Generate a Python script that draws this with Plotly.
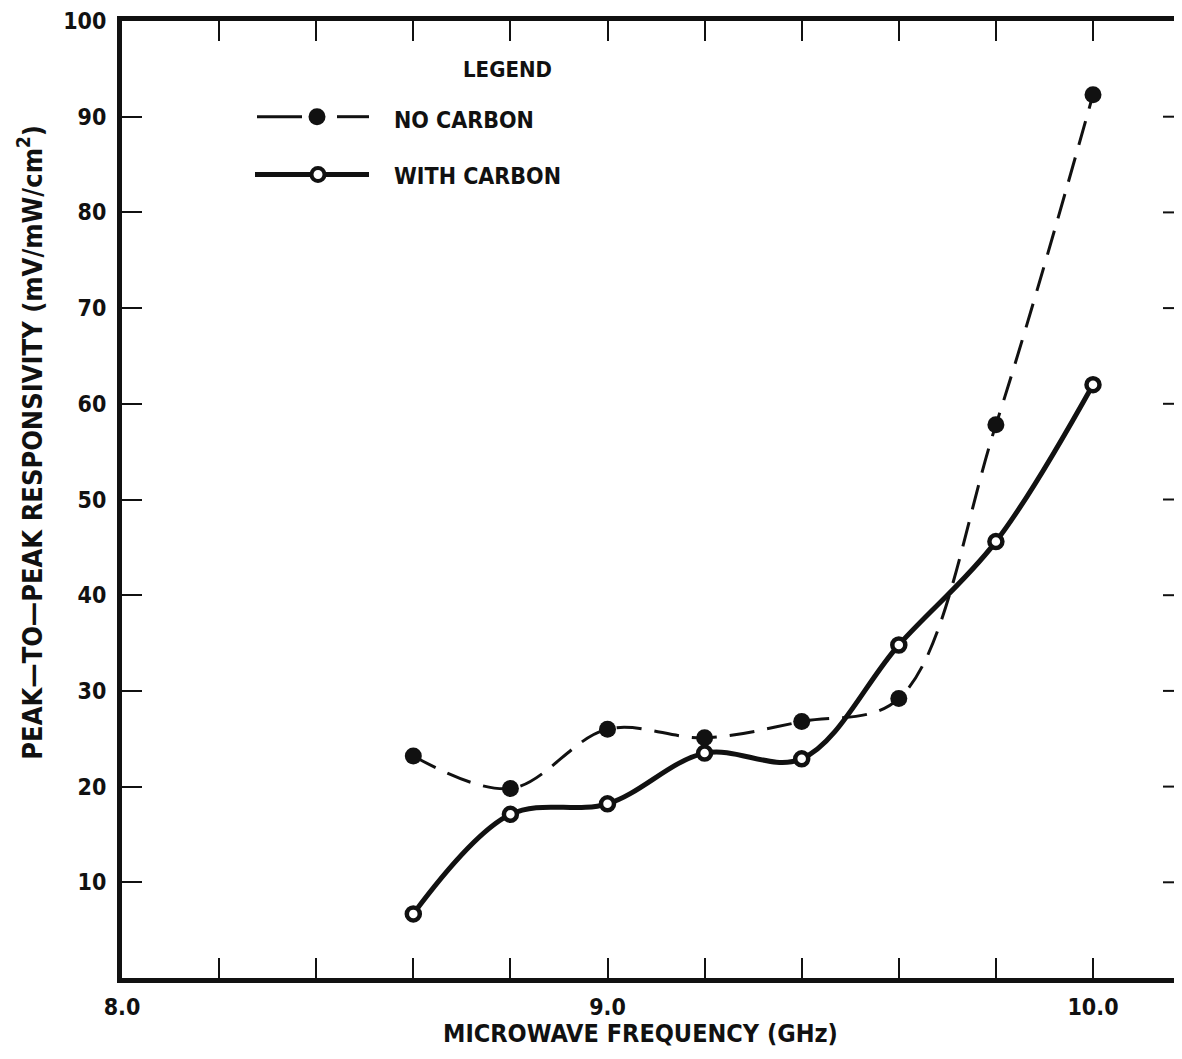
import plotly.graph_objects as go

# ---- data ----
freq_ghz = [8.6, 8.8, 9.0, 9.2, 9.4, 9.6, 9.8, 10.0]
no_carbon = [23.2, 19.8, 26.0, 25.1, 26.8, 29.2, 57.8, 92.3]
with_carbon = [6.7, 17.1, 18.2, 23.5, 22.9, 34.8, 45.6, 62.0]

x_tickvals = [8.0, 8.2, 8.4, 8.6, 8.8, 9.0, 9.2, 9.4, 9.6, 9.8, 10.0]
x_ticktext = ["8.0", "", "", "", "", "9.0", "", "", "", "", "10.0"]
y_tickvals = [10, 20, 30, 40, 50, 60, 70, 80, 90, 100]
y_ticktext = ["10", "20", "30", "40", "50", "60", "70", "80", "90", "100"]

FONT = "DejaVu Sans Condensed, Liberation Sans Narrow, Arial Narrow, sans-serif"
INK = "#111111"

# figure sized to fit the 1182x1059 window together with the 8px body margin
W, H = 1166, 1043
ML, MR, MT, MB = 114, 0, 10, 73
PW, PH = W - ML - MR, H - MT - MB
OFF = 8  # body margin of the html page
PX_PER_GHZ = 485.5
X_MAX = 8.0 + PW / PX_PER_GHZ


def px_x(p):  # page pixel -> paper x
    return (p - OFF - ML) / PW


def px_y(p):  # page pixel -> paper y
    return (H - MB + OFF - p) / PH


fig = go.Figure()

fig.add_trace(go.Scatter(
    x=freq_ghz, y=no_carbon, mode="lines+markers", name="NO CARBON",
    line=dict(color=INK, width=3, dash="25px,13px", shape="spline", smoothing=1.0),
    marker=dict(symbol="circle", size=17, color=INK, line=dict(width=0)),
    showlegend=False,
))
fig.add_trace(go.Scatter(
    x=freq_ghz, y=with_carbon, mode="lines+markers", name="WITH CARBON",
    line=dict(color=INK, width=5, shape="spline", smoothing=1.0),
    marker=dict(symbol="circle", size=13, color="white", line=dict(width=4.5, color=INK)),
    showlegend=False,
))

# ---- legend drawn as in the original (paper coordinates) ----
shapes = []
shapes.append(dict(type="line", xref="paper", yref="paper",
                   x0=px_x(257), x1=px_x(302), y0=px_y(114), y1=px_y(114),
                   line=dict(color=INK, width=3)))
shapes.append(dict(type="line", xref="paper", yref="paper",
                   x0=px_x(337), x1=px_x(369), y0=px_y(114), y1=px_y(114),
                   line=dict(color=INK, width=3)))
r = 8.5
shapes.append(dict(type="circle", xref="paper", yref="paper",
                   x0=px_x(317 - r), x1=px_x(317 + r), y0=px_y(114 + r), y1=px_y(114 - r),
                   fillcolor=INK, line=dict(color=INK, width=0)))
shapes.append(dict(type="line", xref="paper", yref="paper",
                   x0=px_x(255), x1=px_x(369), y0=px_y(172), y1=px_y(172),
                   line=dict(color=INK, width=5)))
r2 = 6.5
shapes.append(dict(type="circle", xref="paper", yref="paper",
                   x0=px_x(318 - r2), x1=px_x(318 + r2), y0=px_y(172 + r2), y1=px_y(172 - r2),
                   fillcolor="white", line=dict(color=INK, width=4)))

# right-hand inside ticks (the frame's right edge is cut off in the original)
for v in y_tickvals[:-1]:
    shapes.append(dict(type="line", xref="paper", yref="y",
                       x0=px_x(1163), x1=1.0, y0=v, y1=v,
                       line=dict(color=INK, width=2)))

annotations = [
    dict(text="LEGEND", xref="paper", yref="paper", x=px_x(507), y=px_y(67),
         xanchor="center", yanchor="middle", showarrow=False,
         font=dict(family=FONT, size=22, color=INK, weight="bold")),
    dict(text="NO CARBON", xref="paper", yref="paper", x=px_x(392), y=px_y(117),
         xanchor="left", yanchor="middle", showarrow=False,
         font=dict(family=FONT, size=23, color=INK, weight="bold")),
    dict(text="WITH CARBON", xref="paper", yref="paper", x=px_x(392), y=px_y(173),
         xanchor="left", yanchor="middle", showarrow=False,
         font=dict(family=FONT, size=23, color=INK, weight="bold")),
    # axis titles
    dict(text="MICROWAVE FREQUENCY (GHz)", xref="paper", yref="paper",
         x=px_x(640), y=px_y(1034), xanchor="center", yanchor="middle", showarrow=False,
         font=dict(family=FONT, size=25, color=INK, weight="bold")),
    dict(text="PEAK\u2014TO\u2014PEAK RESPONSIVITY (mV/mW/cm<sup>2</sup>)", xref="paper", yref="paper",
         x=px_x(30), y=px_y(441), xanchor="center", yanchor="middle", showarrow=False,
         textangle=-90,
         font=dict(family=FONT, size=27, color=INK, weight="bold")),
]

axis_common = dict(
    showline=True, linewidth=5, linecolor=INK,
    ticks="inside", ticklen=20, tickwidth=2, tickcolor=INK,
    showgrid=False, zeroline=False, ticklabeloverflow="allow",
    tickfont=dict(family=FONT, size=23, color=INK, weight="bold"),
)

fig.update_layout(
    width=W, height=H,
    margin=dict(l=ML, r=MR, t=MT, b=MB),
    paper_bgcolor="white", plot_bgcolor="white",
    xaxis=dict(range=[8.0, X_MAX], tickmode="array", tickvals=x_tickvals, ticktext=x_ticktext,
               mirror="ticks", ticklabelstandoff=4, **axis_common),
    yaxis=dict(range=[0, 100], tickmode="array", tickvals=y_tickvals, ticktext=y_ticktext,
               mirror=False, ticklabelstandoff=6, **axis_common),
    shapes=shapes,
    annotations=annotations,
)

fig.write_html("out.html")
